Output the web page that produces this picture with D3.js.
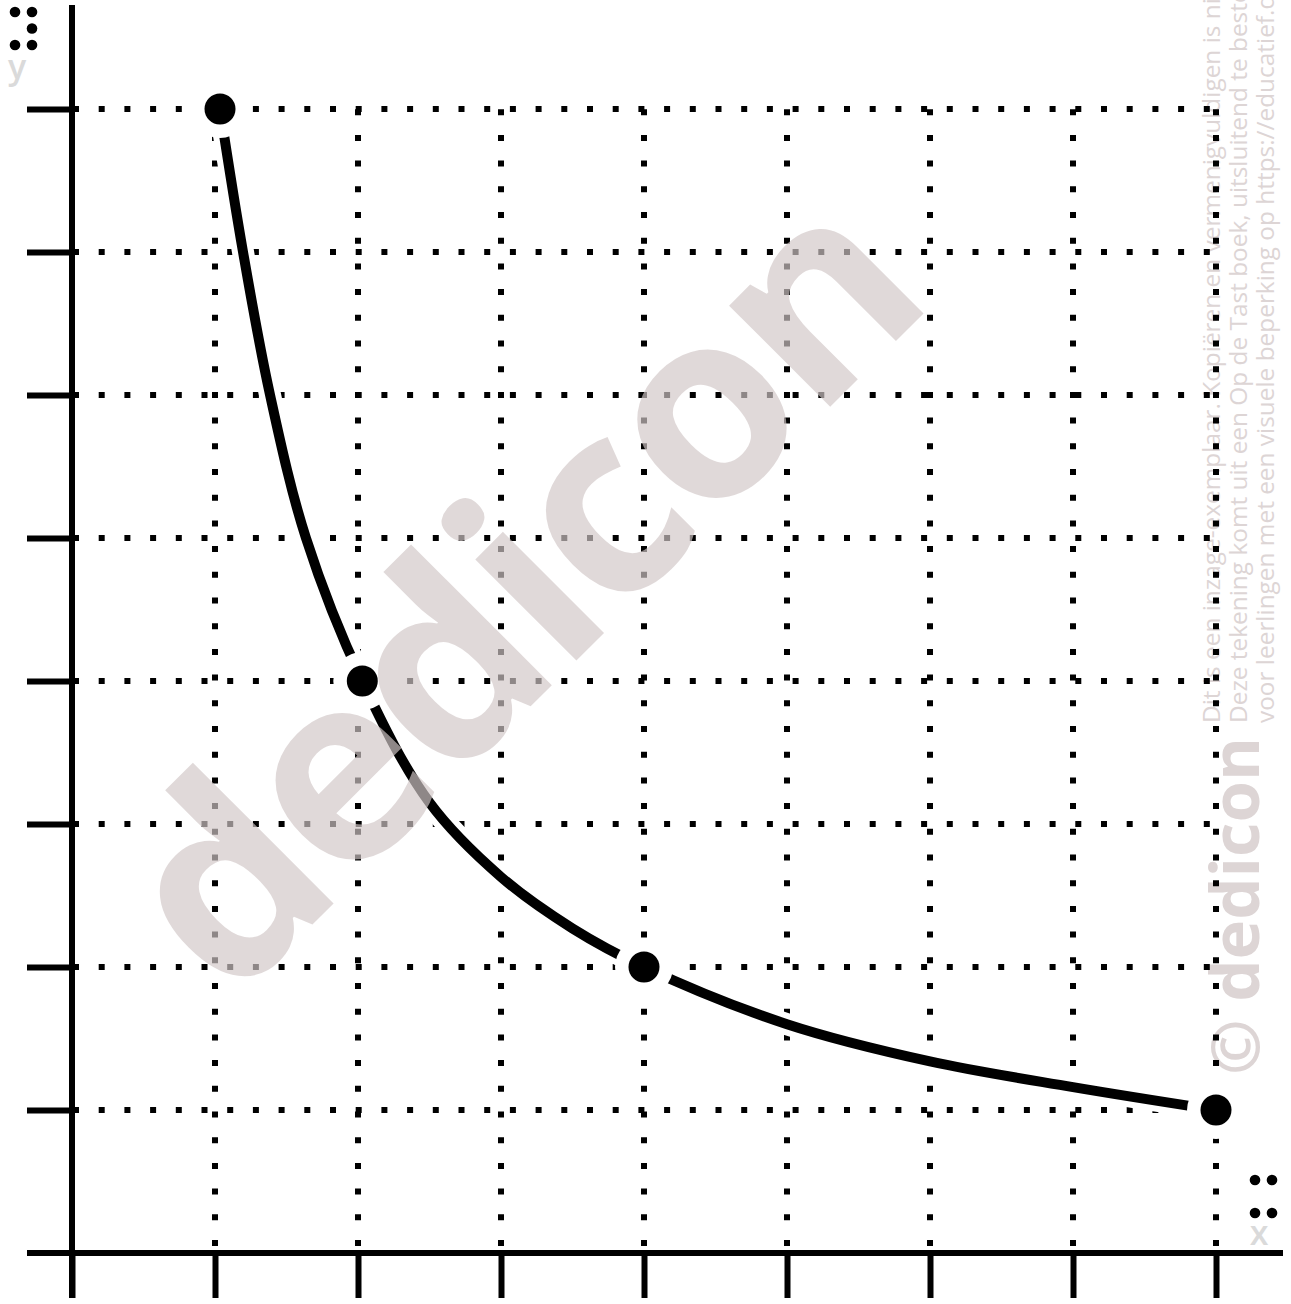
<!DOCTYPE html>
<html>
<head>
<meta charset="utf-8">
<script src="https://cdn.jsdelivr.net/npm/d3@7"></script>
<style>
  html, body { margin: 0; padding: 0; background: #fff; }
  svg { display: block; }
</style>
</head>
<body>
<script>
// ---- data ----
const gridValues = [1, 2, 3, 4, 5, 6, 7, 8];
const axisTicks = [0, 1, 2, 3, 4, 5, 6, 7, 8];
const pointX = [1.035, 2.03, 4.0, 8.0];
const pointY = [8, 4, 2, 1];
// curve
const curveX = [1.035, 1.196, 1.385, 1.636, 2.03, 2.5, 3, 3.5, 4.0, 5, 6, 7, 8];
const curveY = [8, 7, 6, 5, 4, 3.15, 2.63, 2.27, 2, 1.6, 1.34, 1.16, 1];
const brailleY = [[0, 0], [0, 2], [1, 0], [1, 1], [1, 2]];
const brailleX = [[0, 0], [0, 2], [1, 0], [1, 2]];
const noticeLines = [
  "Dit is een inzage-exemplaar. Kopiëren en vermenigvuldigen is niet toegestaan.",
  "Deze tekening komt uit een Op de Tast boek, uitsluitend te bestellen door en",
  "voor leerlingen met een visuele beperking op https://educatief.dedicon.nl"
];

const W = 1291, H = 1304;
const svg = d3.select("body").append("svg").attr("width", W).attr("height", H);

const x = d3.scaleLinear().domain([0, 8]).range([72, 1216]);
const y = d3.scaleLinear().domain([0, 8]).range([1253, 109]);

// ---- right side notice (under everything) ----
const notice = svg.append("g").attr("fill", "#ddd5d5")
  .attr("font-family", "'Open Sans', sans-serif");
const noticeBase = [1220, 1247, 1274];
noticeLines.forEach((t, i) => {
  notice.append("text")
    .attr("transform", `translate(${noticeBase[i]},723) rotate(-90)`)
    .attr("font-size", 24.4)
    .text(t);
});
notice.append("text")
  .attr("transform", "translate(1259,906) rotate(-90)")
  .attr("text-anchor", "middle")
  .attr("font-size", 67)
  .attr("font-weight", 700)
  .attr("fill", "#ddd5d5")
  .text("© dedicon");

// ---- dotted grid ----
const grid = svg.append("g")
  .attr("stroke", "#000").attr("stroke-width", 6)
  .attr("stroke-dasharray", "6 19.7").attr("fill", "none");
grid.selectAll("line.h").data(gridValues).join("line").attr("class", "h")
  .attr("x1", x(0) + 1).attr("x2", x(8) - 6)
  .attr("y1", d => y(d)).attr("y2", d => y(d));
grid.selectAll("line.v").data(gridValues).join("line").attr("class", "v")
  .attr("x1", d => x(d)).attr("x2", d => x(d))
  .attr("y1", y(0) - 7).attr("y2", y(8) - 1);

// ---- axes ----
const yAxis = d3.axisLeft(y).tickValues(gridValues).tickSize(45).tickSizeOuter(0).tickFormat("");
const xAxis = d3.axisBottom(x).tickValues(axisTicks).tickSize(45).tickSizeOuter(0).tickFormat("");
const gy = svg.append("g").attr("transform", `translate(${x(0)},0)`).call(yAxis);
const gx = svg.append("g").attr("transform", `translate(0,${y(0)})`).call(xAxis);
[gx, gy].forEach(g => {
  g.select(".domain").remove();
  g.selectAll(".tick line").attr("stroke", "#000").attr("stroke-width", 6);
});
svg.append("line").attr("x1", x(0)).attr("x2", x(0)).attr("y1", 5).attr("y2", 1298)
  .attr("stroke", "#000").attr("stroke-width", 6);
svg.append("line").attr("x1", 27).attr("x2", 1283).attr("y1", y(0)).attr("y2", y(0))
  .attr("stroke", "#000").attr("stroke-width", 6);

// ---- curve ----
const curveData = curveX.map((d, i) => [d, curveY[i]]);
const line = d3.line().x(d => x(d[0])).y(d => y(d[1])).curve(d3.curveCatmullRom.alpha(0.5));
svg.append("path").datum(curveData).attr("d", line)
  .attr("fill", "none").attr("stroke", "#fff").attr("stroke-width", 22);
svg.append("path").datum(curveData).attr("d", line)
  .attr("fill", "none").attr("stroke", "#000").attr("stroke-width", 10);

// ---- points ----
const pts = pointX.map((d, i) => [d, pointY[i]]);
svg.append("g").selectAll("circle").data(pts).join("circle")
  .attr("cx", d => x(d[0])).attr("cy", d => y(d[1])).attr("r", 29).attr("fill", "#fff");
svg.append("g").selectAll("circle").data(pts).join("circle")
  .attr("cx", d => x(d[0])).attr("cy", d => y(d[1])).attr("r", 15.5).attr("fill", "#000");

// ---- braille labels ----
svg.append("g").selectAll("circle").data(brailleY).join("circle")
  .attr("cx", d => 15 + d[0] * 17).attr("cy", d => 12 + d[1] * 16.5).attr("r", 5.3).attr("fill", "#000");
svg.append("text").attr("x", 17).attr("y", 79).attr("text-anchor", "middle")
  .attr("font-family", "'Open Sans', sans-serif").attr("font-size", 34).attr("font-weight", 600)
  .attr("fill", "#dadada").text("y");
svg.append("g").selectAll("circle").data(brailleX).join("circle")
  .attr("cx", d => 1255 + d[0] * 17).attr("cy", d => 1180 + d[1] * 16.5).attr("r", 5.3).attr("fill", "#000");
svg.append("text").attr("x", 1259).attr("y", 1245).attr("text-anchor", "middle")
  .attr("font-family", "'Open Sans', sans-serif").attr("font-size", 34).attr("font-weight", 600)
  .attr("fill", "#dadada").text("x");

// ---- diagonal watermark (over everything) ----
svg.append("text")
  .attr("transform", "translate(582,655) rotate(-45)")
  .attr("text-anchor", "middle")
  .attr("font-family", "'Open Sans', sans-serif")
  .attr("font-weight", 700)
  .attr("font-size", 262)
  .attr("letter-spacing", -6)
  .attr("fill", "rgb(210,199,199)")
  .attr("fill-opacity", 0.68)
  .text("dedicon");
</script>
</body>
</html>
